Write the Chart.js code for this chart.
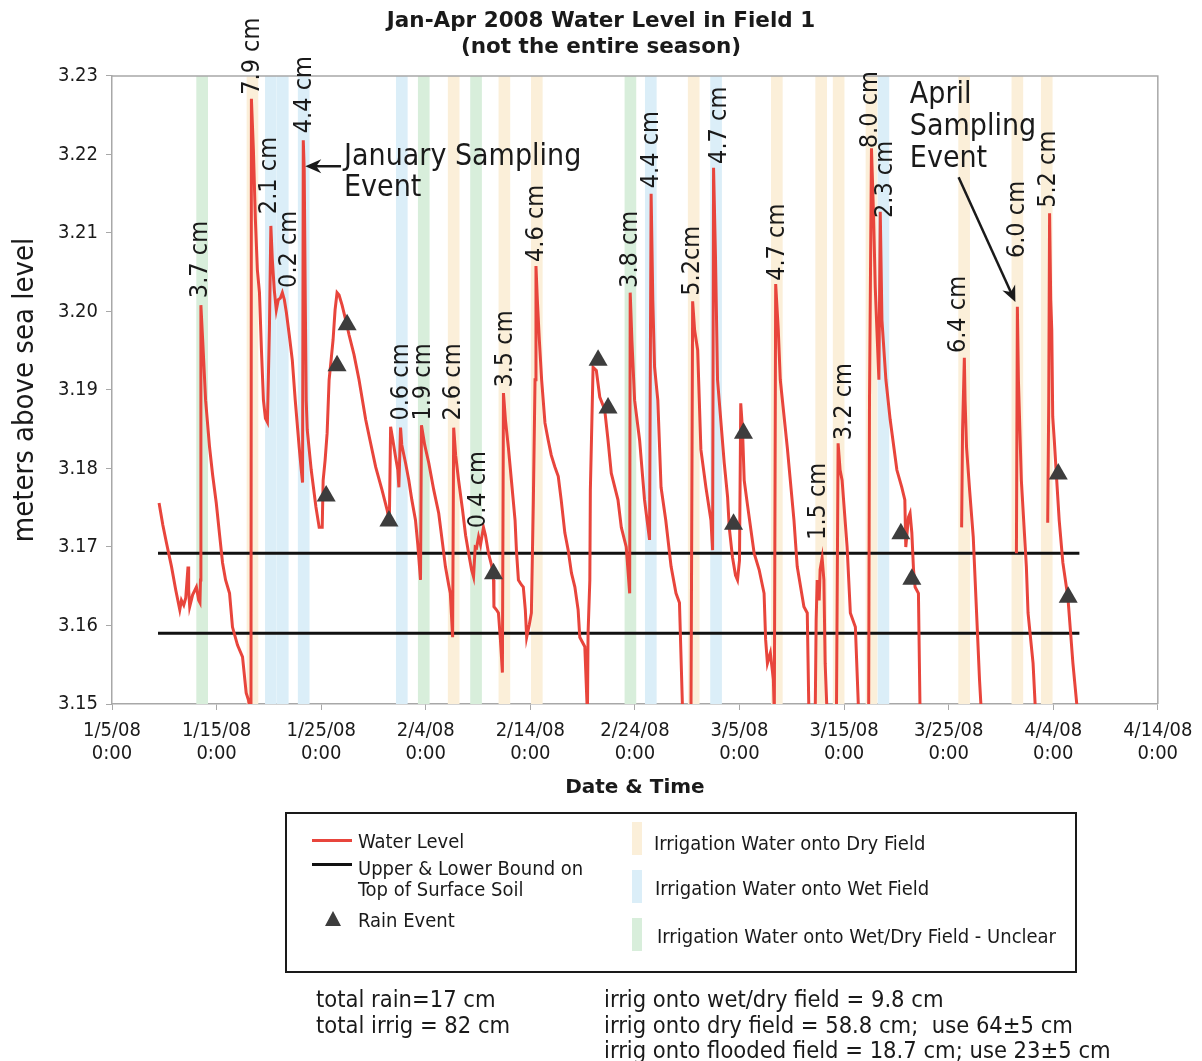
<!DOCTYPE html>
<html>
<head>
<meta charset="utf-8">
<title>Jan-Apr 2008 Water Level in Field 1</title>
<script src="https://cdn.jsdelivr.net/npm/chart.js@4.4.1/dist/chart.umd.min.js"></script>
<style>
  body { margin: 0; background: #fff; }
  #wrap {
    position: relative; width: 1202px; height: 1061px; overflow: hidden;
    font-family: "DejaVu Sans Condensed", "DejaVu Sans", sans-serif; color: #1a1a1a;
  }
  #chart { position: absolute; left: 0; top: 0; }
  .box { position: absolute; left: 285px; top: 812px; width: 788px; height: 157px; border: 2px solid #1a1a1a; }
  .lg { position: absolute; font-size: 20px; line-height: 24px; white-space: nowrap; }
  .note { position: absolute; font-size: 23.5px; line-height: 26px; white-space: pre; }
  .sw { position: absolute; width: 10px; height: 33px; }
  .ln { position: absolute; width: 40px; height: 3px; }
  .tri { position: absolute; width: 0; height: 0; border-left: 8px solid transparent; border-right: 8px solid transparent; border-bottom: 15px solid #3d3d3d; }
</style>
</head>
<body>
<div id="wrap">
  <canvas id="chart" width="1202" height="1061"></canvas>

  <div class="box"></div>
  <div class="ln" style="left:312px; top:839px; background:#e8453c"></div>
  <div class="lg" style="left:358px; top:829px">Water Level</div>
  <div class="ln" style="left:312px; top:863px; background:#111"></div>
  <div class="lg" style="left:358px; top:856px">Upper &amp; Lower Bound on</div>
  <div class="lg" style="left:358px; top:877px">Top of Surface Soil</div>
  <div class="tri" style="left:325px; top:911px"></div>
  <div class="lg" style="left:358px; top:908px">Rain Event</div>

  <div class="sw" style="left:632px; top:822px; background:#fbefd9"></div>
  <div class="lg" style="left:654px; top:831px">Irrigation Water onto Dry Field</div>
  <div class="sw" style="left:632px; top:870px; background:#dbeef8"></div>
  <div class="lg" style="left:655px; top:876px">Irrigation Water onto Wet Field</div>
  <div class="sw" style="left:632px; top:918px; background:#d8eedb"></div>
  <div class="lg" style="left:657px; top:924px">Irrigation Water onto Wet/Dry Field - Unclear</div>

  <div class="note" style="left:316px; top:986px">total rain=17 cm</div>
  <div class="note" style="left:316px; top:1012px">total irrig = 82 cm</div>
  <div class="note" style="left:604px; top:986px">irrig onto wet/dry field = 9.8 cm</div>
  <div class="note" style="left:604px; top:1012px">irrig onto dry field = 58.8 cm;  use 64±5 cm</div>
  <div class="note" style="left:604px; top:1037px">irrig onto flooded field = 18.7 cm; use 23±5 cm</div>
</div>

<script>
// x values are days after 1/5/08 0:00, y values are metres above sea level
const dateTicks = ['1/5/08', '1/15/08', '1/25/08', '2/4/08', '2/14/08', '2/24/08',
                   '3/5/08', '3/15/08', '3/25/08', '4/4/08', '4/14/08'];
const timeTick = '0:00';

// logger record [day, level]; null level = no record
const waterLevel = [
  [4.50,3.1756],[4.86,3.1728],[5.21,3.1705],[5.69,3.1675],[6.10,3.1645],[6.48,3.1620],[6.64,3.1632],
  [6.86,3.1626],[7.05,3.1635],[7.27,3.1675],[7.33,3.1645],[7.43,3.1624],[7.71,3.1639],[8.07,3.1649],
  [8.29,3.1632],[8.41,3.1629],[8.46,3.1658],[8.50,3.2008],[8.67,3.1964],[8.95,3.1887],[9.33,3.1827],
  [9.62,3.1792],[9.97,3.1756],[10.29,3.1715],[10.57,3.1680],[10.86,3.1658],[11.24,3.1641],[11.52,3.1598],
  [12.00,3.1575],[12.48,3.1560],[12.83,3.1514],[13.05,3.1505],[13.29,3.1486],
  [13.33,3.2271],[13.52,3.2206],[13.71,3.2117],[13.90,3.2053],[14.10,3.2024],[14.29,3.1951],[14.48,3.1887],
  [14.67,3.1864],[14.86,3.1859],[15.05,3.1976],[15.19,3.2109],[15.33,3.2066],[15.52,3.2027],[15.71,3.2002],
  [15.90,3.2015],[16.10,3.2017],[16.29,3.2024],[16.48,3.2015],[16.67,3.1999],[16.95,3.1970],[17.24,3.1938],
  [17.52,3.1887],[17.90,3.1827],[18.10,3.1798],[18.22,3.1782],
  [18.29,3.2218],[18.38,3.2180],[18.48,3.2015],[18.57,3.1887],[18.67,3.1849],[19.05,3.1798],[19.50,3.1751],
  [19.81,3.1725],[20.10,3.1725],[20.19,3.1785],[20.38,3.1811],[20.57,3.1845],[20.76,3.1913],[20.95,3.1938],
  [21.14,3.1964],[21.33,3.2002],[21.52,3.2024],[21.71,3.2021],[22.00,3.2008],[22.35,3.1989],[22.67,3.1970],
  [23.14,3.1945],[23.62,3.1913],[24.26,3.1862],[24.67,3.1836],[25.21,3.1802],[25.81,3.1773],[26.31,3.1747],
  [26.52,3.1732],[26.64,3.1853],[26.86,3.1836],[27.11,3.1815],[27.33,3.1798],[27.43,3.1776],[27.59,3.1852],
  [27.71,3.1830],[28.07,3.1807],[28.38,3.1785],[28.67,3.1760],[29.02,3.1734],[29.24,3.1703],[29.50,3.1658],
  [29.59,3.1855],[29.90,3.1830],[30.29,3.1807],[30.76,3.1773],[31.24,3.1743],[31.62,3.1703],[31.88,3.1675],
  [32.19,3.1652],[32.35,3.1641],[32.57,3.1585],[32.67,3.1852],[32.86,3.1817],[33.14,3.1785],[33.52,3.1747],
  [33.81,3.1715],[34.10,3.1692],[34.38,3.1671],[34.57,3.1662],[34.73,3.1700],[34.86,3.1699],[35.05,3.1713],
  [35.24,3.1703],[35.52,3.1725],[35.71,3.1715],[36.00,3.1692],[36.29,3.1677],[36.48,3.1658],[36.52,3.1624],
  [36.76,3.1620],[36.95,3.1616],[37.14,3.1582],[37.33,3.1540],[37.43,3.1896],[37.62,3.1862],[37.90,3.1827],
  [38.19,3.1785],[38.54,3.1734],[38.67,3.1696],[38.86,3.1658],[39.14,3.1652],[39.33,3.1649],[39.52,3.1620],
  [39.65,3.1585],[39.90,3.1601],[40.10,3.1616],[40.29,3.1760],[40.45,3.1913],[40.54,3.2058],[40.67,3.2015],
  [40.86,3.1964],[41.08,3.1913],[41.40,3.1858],[41.71,3.1836],[42.00,3.1817],[42.35,3.1802],[42.67,3.1790],
  [42.95,3.1760],[43.30,3.1718],[43.62,3.1696],[43.93,3.1667],[44.26,3.1649],[44.57,3.1620],[44.73,3.1585],
  [45.21,3.1573],[45.46,3.1486],[45.52,3.1590],[45.69,3.1658],[45.74,3.1773],[46.00,3.1929],[46.31,3.1925],
  [46.64,3.1891],[47.11,3.1875],[47.43,3.1836],[47.74,3.1794],[48.38,3.1760],[48.70,3.1725],[49.17,3.1700],
  [49.50,3.1641],[49.55,3.2024],[49.71,3.1964],[49.97,3.1887],[50.45,3.1836],[50.92,3.1760],[51.40,3.1709],
  [51.55,3.2150],[51.71,3.2015],[51.88,3.1929],[52.19,3.1887],[52.50,3.1776],[52.95,3.1734],[53.46,3.1675],
  [53.93,3.1641],[54.26,3.1629],[54.57,3.1486],[55.36,3.1486],[55.52,3.2013],[55.71,3.1976],[56.00,3.1951],
  [56.31,3.1824],[56.79,3.1776],[57.27,3.1734],[57.43,3.1696],[57.52,3.2183],[57.71,3.2066],[57.90,3.1913],
  [58.54,3.1807],[58.86,3.1764],[59.02,3.1725],[59.33,3.1687],[59.62,3.1664],[59.81,3.1658],[60.00,3.1683],
  [60.12,3.1883],[60.29,3.1849],[60.45,3.1785],[60.76,3.1754],[61.40,3.1692],[61.88,3.1671],[62.35,3.1641],
  [62.50,3.1582],[62.67,3.1552],[62.95,3.1565],[63.24,3.1531],[63.33,3.1486],[63.46,3.2035],[63.71,3.1976],
  [63.90,3.1913],[64.57,3.1827],[65.21,3.1734],[65.52,3.1675],[66.16,3.1624],[66.48,3.1616],[66.64,3.1486],
  [67.24,3.1486],[67.33,3.1607],[67.43,3.1658],[67.62,3.1632],[67.71,3.1671],[67.90,3.1686],[68.07,3.1658],
  [68.19,3.1552],[68.38,3.1486],[69.27,3.1486],[69.43,3.1832],[69.62,3.1798],[69.81,3.1785],[70.29,3.1700],
  [70.60,3.1616],[71.08,3.1598],[71.40,3.1486],[72.35,3.1486],[72.43,3.1887],[72.62,3.2208],[72.83,3.2117],
  [72.98,3.2031],[73.14,3.1976],[73.33,3.1913],[73.46,3.2127],[73.62,3.1989],[74.00,3.1913],[74.41,3.1862],
  [75.05,3.1798],[75.52,3.1776],[75.81,3.1760],[75.90,3.1700],[76.16,3.1738],[76.31,3.1743],[76.48,3.1718],
  [76.64,3.1671],[76.79,3.1649],[77.11,3.1641],[77.27,3.1486],
  [79.00,null],
  [81.24,3.1725],[81.33,3.1849],[81.50,3.1941],[81.57,3.1887],[81.71,3.1827],[82.00,3.1773],[82.35,3.1713],
  [82.67,3.1616],[82.95,3.1531],[83.14,3.1486],
  [85.00,null],
  [86.48,3.1692],[86.57,3.2006],[86.67,3.1913],[86.95,3.1785],[87.43,3.1675],[87.59,3.1616],[88.07,3.1552],
  [88.32,3.1486],
  [89.00,null],
  [89.47,3.1731],[89.57,3.1887],[89.65,3.2125],[89.76,3.2015],[89.86,3.1976],[89.95,3.1866],[90.10,3.1836],
  [90.29,3.1794],[90.57,3.1734],[90.92,3.1680],[91.40,3.1636],[91.88,3.1552],[92.35,3.1486]
];

// surface soil bounds
const boundDays = [4.4, 92.5];
const upperBound = 3.1692;
const lowerBound = 3.1590;

// rain events
const rainDays   = [20.48, 21.52, 22.48, 26.48, 36.48, 46.48, 47.43, 59.43, 60.38, 75.43, 76.48, 90.48, 91.43];
const rainLevels = [3.1765, 3.1931, 3.1983, 3.1733, 3.1666, 3.1938, 3.1877, 3.1729, 3.1845, 3.1717, 3.1659, 3.1793, 3.1636];

// irrigation days, by field condition
const dryDays     = [13.43, 32.67, 37.52, 40.62, 55.62, 63.57, 67.81, 69.48, 72.62, 81.48, 86.57, 89.38];
const wetDays     = [15.19, 16.33, 18.33, 27.71, 51.52, 57.76, 73.76];
const unclearDays = [8.62, 29.81, 34.81, 49.57];

// applied irrigation depth, written above each event
const irrigAmounts = ['3.7 cm', '7.9 cm', '2.1 cm', '0.2 cm', '4.4 cm', '0.6 cm', '1.9 cm', '2.6 cm',
                      '0.4 cm', '3.5 cm', '4.6 cm', '3.8 cm', '4.4 cm', '5.2cm', '4.7 cm', '4.7 cm',
                      '1.5 cm', '3.2 cm', '8.0 cm', '2.3 cm', '6.4 cm', '6.0 cm', '5.2 cm'];
const amountDays   = [8.48, 13.43, 15.05, 16.95, 18.38, 27.71, 29.81, 32.67, 35.05, 37.62, 40.57, 49.62,
                      51.62, 55.52, 58.10, 63.62, 67.52, 70.00, 72.48, 74.00, 80.95, 86.57, 89.52];
const amountLevels = [3.2017, 3.2276, 3.2124, 3.2030, 3.2227, 3.1861, 3.1861, 3.1861, 3.1724, 3.1903, 3.2063, 3.2030,
                      3.2157, 3.2020, 3.2188, 3.2039, 3.1709, 3.1836, 3.2208, 3.2119, 3.1947, 3.2068, 3.2132];

const FONT = '"DejaVu Sans Condensed", "DejaVu Sans", sans-serif';
const INK = '#1a1a1a';

const band = (days) => days.map(d => ({ x: d, y: [3.15, 3.23] }));

function arrow(ctx, x0, y0, x1, y1) {
  const a = Math.atan2(y1 - y0, x1 - x0);
  ctx.beginPath();
  ctx.moveTo(x0, y0);
  ctx.lineTo(x1 - 10 * Math.cos(a), y1 - 10 * Math.sin(a));
  ctx.stroke();
  ctx.beginPath();
  ctx.moveTo(x1, y1);
  ctx.lineTo(x1 - 16 * Math.cos(a) + 7 * Math.sin(a), y1 - 16 * Math.sin(a) - 7 * Math.cos(a));
  ctx.lineTo(x1 - 11 * Math.cos(a), y1 - 11 * Math.sin(a));
  ctx.lineTo(x1 - 16 * Math.cos(a) - 7 * Math.sin(a), y1 - 16 * Math.sin(a) + 7 * Math.cos(a));
  ctx.closePath();
  ctx.fill();
}

// frame, irrigation amounts and the two sampling-event notes
const fieldNotes = {
  id: 'fieldNotes',
  afterDatasetsDraw(chart) {
    const { ctx, chartArea: a, scales: { x, y } } = chart;
    ctx.save();
    ctx.strokeStyle = '#a8a8a8';
    ctx.lineWidth = 1.5;
    ctx.beginPath();
    ctx.moveTo(a.left, a.top);
    ctx.lineTo(a.right, a.top);
    ctx.lineTo(a.right, a.bottom);
    ctx.stroke();

    ctx.fillStyle = INK;
    ctx.font = '25px ' + FONT;
    ctx.textAlign = 'left';
    ctx.textBaseline = 'middle';
    irrigAmounts.forEach((txt, i) => {
      ctx.save();
      ctx.translate(x.getPixelForValue(amountDays[i]), y.getPixelForValue(amountLevels[i]));
      ctx.rotate(-Math.PI / 2);
      ctx.fillText(txt, 0, 0);
      ctx.restore();
    });

    ctx.font = '30px ' + FONT;
    const jx = x.getPixelForValue(22.19), jy = y.getPixelForValue(3.2197);
    ctx.fillText('January Sampling', jx, jy);
    ctx.fillText('Event', jx, jy + 31);
    const ax = x.getPixelForValue(76.29), ay = y.getPixelForValue(3.2276);
    ['April', 'Sampling', 'Event'].forEach((t, i) => ctx.fillText(t, ax, ay + i * 32));

    ctx.strokeStyle = INK;
    ctx.lineWidth = 2.5;
    arrow(ctx, x.getPixelForValue(21.90), y.getPixelForValue(3.2185), x.getPixelForValue(18.48), y.getPixelForValue(3.2185));
    arrow(ctx, x.getPixelForValue(80.95), y.getPixelForValue(3.2171), x.getPixelForValue(86.38), y.getPixelForValue(3.2012));
    ctx.restore();
  }
};

const bandOpts = { type: 'bar', grouped: false, barThickness: 11, borderWidth: 0, order: 10 };

new Chart(document.getElementById('chart'), {
  type: 'line',
  data: {
    datasets: [
      { ...bandOpts, label: 'Irrigation Water onto Dry Field', data: band(dryDays), backgroundColor: '#fbefd9' },
      { ...bandOpts, label: 'Irrigation Water onto Wet Field', data: band(wetDays), backgroundColor: '#dbeef8' },
      { ...bandOpts, label: 'Irrigation Water onto Wet/Dry Field - Unclear', data: band(unclearDays), backgroundColor: '#d8eedb' },
      {
        label: 'Upper & Lower Bound on Top of Surface Soil',
        data: boundDays.map(d => ({ x: d, y: upperBound })),
        borderColor: '#111', borderWidth: 3, pointRadius: 0, order: 5
      },
      {
        label: 'lower bound',
        data: boundDays.map(d => ({ x: d, y: lowerBound })),
        borderColor: '#111', borderWidth: 3, pointRadius: 0, order: 5
      },
      {
        label: 'Water Level',
        data: waterLevel.map(([d, v]) => ({ x: d, y: v })),
        borderColor: '#e8453c', borderWidth: 3, pointRadius: 0, tension: 0,
        spanGaps: false, order: 2
      },
      {
        type: 'scatter',
        label: 'Rain Event',
        data: rainDays.map((d, i) => ({ x: d, y: rainLevels[i] })),
        pointStyle: 'triangle', pointRadius: 11, backgroundColor: '#3d3d3d', borderWidth: 0, order: 1
      }
    ]
  },
  options: {
    responsive: false,
    animation: false,
    layout: { padding: { left: 0, right: 0, top: 0, bottom: 257 } },
    plugins: {
      legend: { display: false },
      tooltip: { enabled: false },
      title: {
        display: true,
        text: ['Jan-Apr 2008 Water Level in Field 1', '(not the entire season)'],
        color: INK,
        font: { family: '"DejaVu Sans", sans-serif', size: 21.5, weight: 'bold', lineHeight: 1.22 },
        padding: { top: 8, bottom: 15.5 }
      }
    },
    scales: {
      x: {
        type: 'linear', min: 0, max: 100, offset: false,
        afterFit: s => { s.height = 100; },
        ticks: {
          stepSize: 10, color: INK, padding: 9.5, maxRotation: 0,
          font: { family: FONT, size: 20, lineHeight: 1.15 },
          callback: v => [dateTicks[Math.round(v / 10)], timeTick]
        },
        grid: { offset: false, drawOnChartArea: false, drawTicks: true, tickLength: 6, color: '#a8a8a8' },
        border: { color: '#a8a8a8', width: 1.5 },
        title: {
          display: true, text: 'Date & Time', color: INK,
          font: { family: '"DejaVu Sans", sans-serif', size: 20, weight: 'bold' },
          padding: { top: 0, bottom: 4 }
        }
      },
      y: {
        min: 3.15, max: 3.23,
        afterFit: s => { s.width = 112; },
        ticks: {
          stepSize: 0.01, color: INK, padding: 8,
          font: { family: FONT, size: 20 },
          callback: v => v.toFixed(2)
        },
        grid: { drawOnChartArea: false, drawTicks: true, tickLength: 6, color: '#a8a8a8' },
        border: { color: '#a8a8a8', width: 1.5 },
        title: {
          display: true, text: 'meters above sea level', color: INK,
          font: { family: FONT, size: 29 },
          padding: { top: 8, bottom: 0 }
        }
      },
      // empty margin on the right of the plot
      yRight: {
        type: 'linear', position: 'right', display: true,
        afterFit: s => { s.width = 40; },
        ticks: { display: false },
        grid: { display: false },
        border: { display: false }
      }
    }
  },
  plugins: [fieldNotes]
});
</script>
</body>
</html>
